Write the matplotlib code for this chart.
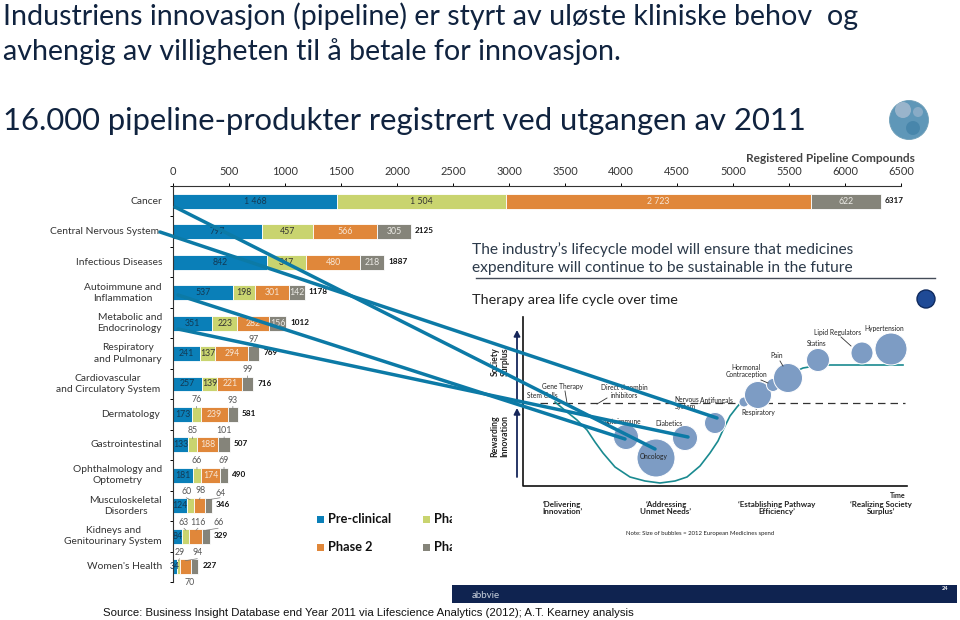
import matplotlib
matplotlib.use("Agg")
import matplotlib.pyplot as plt
from matplotlib.patches import Circle, Rectangle

W, H = 960, 620
plt.rcParams["font.family"] = ["Lato", "DejaVu Sans"]

title_lines = ["Industriens innovasjon (pipeline) er styrt av uløste kliniske behov  og",
               "avhengig av villigheten til å betale for innovasjon."]
subtitle = "16.000 pipeline-produkter registrert ved utgangen av 2011"
axis_title = "Registered Pipeline Compounds"
source = "Source: Business Insight Database end Year 2011 via Lifescience Analytics (2012); A.T. Kearney analysis"

categories = ["Cancer", "Central Nervous System", "Infectious Diseases", "Autoimmune and\nInflammation",
              "Metabolic and\nEndocrinology", "Respiratory\nand Pulmonary", "Cardiovascular\nand Circulatory System",
              "Dermatology", "Gastrointestinal", "Ophthalmology and\nOptometry", "Musculoskeletal\nDisorders",
              "Kidneys and\nGenitourinary System", "Women's Health"]
preclinical = [1468, 797, 842, 537, 351, 241, 257, 173, 133, 181, 124, 84, 34]
phase1 = [1504, 457, 347, 198, 223, 137, 139, 76, 85, 66, 60, 63, 29]
phase2 = [2723, 566, 480, 301, 282, 294, 221, 239, 188, 174, 98, 116, 94]
phase3 = [622, 305, 218, 142, 156, 97, 99, 93, 101, 69, 64, 66, 70]
totals = [6317, 2125, 1887, 1178, 1012, 769, 716, 581, 507, 490, 346, 329, 227]
series_colors = ["#0a7fb8", "#c9d46f", "#e0873a", "#85847a"]
ticks = list(range(0, 7000, 500))

# pasted slide, read in slide pixels
bubble_x = [626, 656, 685, 715, 744, 758, 773, 788, 818, 862, 891]
bubble_y = [437, 458, 438, 423, 402, 395, 385, 378, 360, 353, 349]
bubble_r = [12.5, 19, 12.5, 10.5, 5, 13.5, 6.5, 14.5, 11.5, 11, 16]
curve_x = [555, 567, 577, 587, 595, 603, 615, 630, 645, 660, 675, 687, 700, 710, 718, 723, 730, 737,
           745, 760, 775, 790, 803, 815, 830, 860, 903]
curve_y = [402, 412, 420, 430, 442, 453, 467, 477, 481, 483, 481, 477, 466, 453, 441, 430, 416, 407,
           398, 390, 382, 374, 368, 366, 365, 365, 365]
pointer_start_x = [175, 160, 178, 178]
pointer_start_y = [207, 232, 295, 329]
pointer_end_x = [655, 717, 625, 688]
pointer_end_y = [449, 418, 439, 437]
slide_labels = ["Gene Therapy", "Stem Cells", "Direct thrombin", "inhibitors", "Nervous", "System", "_Antifungals",
                "Respiratory", "Autoimmune", "Diabetics", "Oncology", "Hormonal", "Contraception", "Pain",
                "Statins", "Lipid Regulators", "Hypertension"]
slide_label_x = [563, 542, 624, 624, 687, 685, 716, 758, 623, 669, 654, 746, 746, 777, 817, 838, 884]
slide_label_y = [387, 395, 387, 396, 399, 407, 401, 412, 421, 424, 457, 367, 375, 356, 343, 332, 328]

fig = plt.figure(figsize=(W / 100, H / 100), dpi=100, facecolor="white")

# ---------- background layer in figure pixels
bg = fig.add_axes([0, 0, 1, 1], zorder=0)
bg.set_xlim(0, W); bg.set_ylim(H, 0); bg.axis("off")
NAVY = "#10233f"
for i, line in enumerate(title_lines):
    bg.text(3, 16 + 36 * i, line, fontsize=20.6, color=NAVY, va="center", ha="left")
bg.text(3, 121, subtitle, fontsize=22.3, color=NAVY, va="center", ha="left")
bg.add_patch(Circle((909, 120), 19.5, fc="#5f97b8", ec="#6f9fb8", lw=.6))
bg.add_patch(Circle((903, 110), 8, fc="#aebfd2", ec="none", alpha=.75))
bg.add_patch(Circle((918, 112), 5, fc="#a4bad0", ec="none", alpha=.6))
bg.add_patch(Circle((913, 128), 7, fc="#3f80a6", ec="none", alpha=.7))
bg.text(915, 159, axis_title, fontsize=8.6, fontweight="bold", color="#444444", ha="right", va="center")
bg.text(103, 613, source, fontsize=8.2, family="Liberation Sans", color="#111111", va="center")

leg_pos = [(317, 519), (317, 547), (423, 519), (423, 547)]
leg_txt = ["Pre-clinical", "Phase 2", "Pha", "Pha"]
leg_col = [series_colors[0], series_colors[2], series_colors[1], series_colors[3]]
for (x, y), t, c in zip(leg_pos, leg_txt, leg_col):
    bg.add_patch(Rectangle((x, y - 3), 7, 7, fc=c, ec="none"))
    bg.text(x + 11, y, t, fontsize=9.2, fontweight="bold", color="#111111", va="center")

# ---------- bar chart
x0, x1, y0, y1 = 173, 901, 186, 582
ax = fig.add_axes([x0 / W, 1 - y1 / H, (x1 - x0) / W, (y1 - y0) / H], zorder=2)
ax.patch.set_alpha(0)
ax.set_xlim(0, 6500)
ax.set_ylim(len(categories) - .5, -.5)
left = [0] * len(categories)
series = [preclinical, phase1, phase2, phase3]
for vals, col in zip(series, series_colors):
    ax.barh(range(len(categories)), vals, left=left, height=.49, color=col, edgecolor="white", linewidth=.6)
    left = [a + b for a, b in zip(left, vals)]
ax.xaxis.tick_top()
ax.set_xticks(ticks)
ax.tick_params(axis="x", labelsize=7.9, length=2.5, width=.7, pad=3.8, labelcolor="#333333")
ax.set_yticks([i - .5 for i in range(len(categories) + 1)])
ax.set_yticklabels([])
ax.tick_params(axis="y", length=2.5, width=.7)
for s in ("right", "bottom"):
    ax.spines[s].set_visible(False)
for s in ("top", "left"):
    ax.spines[s].set_linewidth(.8)
    ax.spines[s].set_color("#333333")

label_right = [162, 159, 162, 162, 162, 162, 160, 160, 162, 162, 162, 162, 162]
for i, c in enumerate(categories):
    bg.text(label_right[i], y0 + 30.46 * (i + .5), c, ha="right", va="center", fontsize=7.4,
            color="#333333", linespacing=1.3, multialignment="center")

txt_colors = ["#123a55", "#333333", "#f6e6d6", "#ecebe6"]
outside = {(7, 1): (0, 15), (7, 3): (0, 14), (5, 3): (0, 14), (6, 3): (0, 14), (8, 1): (0, 14), (8, 3): (0, 14),
           (9, 1): (0, 15), (9, 3): (0, 15), (10, 1): (-4, 14), (10, 2): (1, 15), (10, 3): (12, 12),
           (11, 1): (-2, 14), (11, 2): (2, 14), (11, 3): (12, 14), (12, 1): (1, 14), (12, 2): (12, 14),
           (12, 3): (-5, -16)}
left = [0] * len(categories)
for k, (vals, tc) in enumerate(zip(series, txt_colors)):
    for i, v in enumerate(vals):
        mid = left[i] + v / 2
        if (i, k) in outside:
            dx, dy = outside[(i, k)]
            ax.annotate(str(v), (mid, i), xytext=(dx, dy), textcoords="offset pixels", ha="center", va="center",
                        fontsize=6.3, color="#555555")
            if dy > 0:
                ax.annotate("", (mid, i - .2), xytext=(dx, 2), textcoords="offset pixels",
                            arrowprops=dict(arrowstyle="-", color="#777777", lw=.5, shrinkA=0, shrinkB=0))
        else:
            ax.text(mid, i, f"{v:,}".replace(",", " "), ha="center", va="center", fontsize=6.3, color=tc)
    left = [a + b for a, b in zip(left, vals)]
for i, t in enumerate(totals):
    ax.annotate(str(t), (t, i), xytext=(4, 1), textcoords="offset pixels", ha="left", va="center", fontsize=5.9,
                fontweight="bold", color="#111111")

# ---------- pasted slide on top of the chart's right part
fg = fig.add_axes([0, 0, 1, 1], zorder=3)
fg.set_xlim(0, W); fg.set_ylim(H, 0); fg.axis("off"); fg.patch.set_alpha(0)
fg.add_patch(Rectangle((452, 236), 506, 350, fc="white", ec="none"))
fg.text(472, 250, "The industry’s lifecycle model will ensure that medicines", fontsize=11.2, color="#2c3a4a", va="center")
fg.text(472, 268, "expenditure will continue to be sustainable in the future", fontsize=11.2, color="#2c3a4a", va="center")
fg.plot([476, 935], [278, 278], color="#444c58", lw=1)
fg.text(472, 300, "Therapy area life cycle over time", fontsize=10.4, color="#222222", va="center")
fg.add_patch(Circle((926, 299), 9, fc="#1f4a96", ec="#0f2a5e", lw=1))

fg.plot([522.5, 522.5, 907], [317, 486, 486], color="#111111", lw=1.2)
for top, bottom in [(330, 402), (408, 477)]:
    fg.annotate("", (517, top), xytext=(517, bottom),
                arrowprops=dict(arrowstyle="-|>,head_width=.18,head_length=.35", color="#16265a", lw=1.3,
                                shrinkA=0, shrinkB=0))
fg.plot([540, 905], [403, 403], color="#333333", lw=.9, dashes=(6, 4))
fg.plot(curve_x, curve_y, color="#1a8a90", lw=1.2)
for x, y, r in zip(bubble_x, bubble_y, bubble_r):
    fg.add_patch(Circle((x, y), r, fc="#7d9cc4", ec="white", lw=.7, zorder=4))
for x, y, t in zip(slide_label_x, slide_label_y, slide_labels):
    fg.text(x, y, t, fontsize=4.8, color="#222222", ha="center", va="center", zorder=5)
for (xa, ya), (xb, yb) in [((565, 391), (567, 403)), ((607, 398), (597, 404)), ((780, 361), (783, 366)),
                           ((841, 337), (851, 346)), ((761, 380), (768, 383))]:
    fg.plot([xa, xb], [ya, yb], color="#333333", lw=.6, zorder=5)
for x, y, t in [(562, 508, "‘Delivering\nInnovation’"), (666, 508, "‘Addressing\nUnmet Needs’"),
                (777, 508, "‘Establishing Pathway\nEfficiency’"), (881, 508, "‘Realizing Society\nSurplus’")]:
    fg.text(x, y, t, fontsize=5.8, fontweight="bold", color="#222222", ha="center", va="center", linespacing=1.1)
fg.text(898, 495, "Time", fontsize=5, fontweight="bold", color="#222222", ha="center", va="center")
fg.text(700, 533, "Note: Size of bubbles = 2012 European Medicines spend", fontsize=4.3, color="#222222", ha="center", va="center")
fg.text(500, 362, "Society\nSurplus", rotation=90, fontsize=6.3, fontweight="bold", color="#222222", ha="center", va="center", linespacing=1.1)
fg.text(500, 436, "Rewarding\nInnovation", rotation=90, fontsize=6.3, fontweight="bold", color="#222222", ha="center", va="center", linespacing=1.1)
fg.add_patch(Rectangle((452, 585), 505, 18, fc="#0f2350", ec="none"))
fg.text(486, 595, "abbvie", fontsize=7, color="#c8d0dc", ha="center", va="center")
fg.text(945, 589, "24", fontsize=4, fontweight="bold", color="white", ha="center", va="center")

for sx, sy, ex, ey in zip(pointer_start_x, pointer_start_y, pointer_end_x, pointer_end_y):
    fg.plot([sx, ex], [sy, ey], color="#0c7aa6", lw=2.5, zorder=8, solid_capstyle="round")

fig.savefig("out.png", dpi=100)
